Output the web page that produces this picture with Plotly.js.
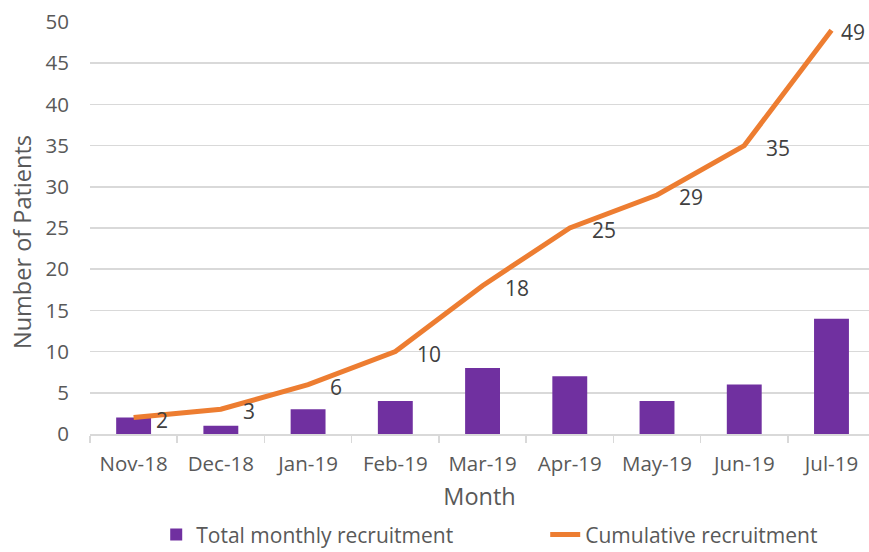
<!DOCTYPE html>
<html><head><meta charset="utf-8">
<script src="https://cdn.plot.ly/plotly-3.0.1.min.js"></script>
<style>html,body{margin:0;padding:0;background:#fff}#chart{width:869px;height:552px}</style>
</head><body><div id="chart"></div>
<script>
const months = ["Nov-18","Dec-18","Jan-19","Feb-19","Mar-19","Apr-19","May-19","Jun-19","Jul-19"];
const monthly = [2,1,3,4,8,7,4,6,14];
const cumulative = [2,3,6,10,18,25,29,35,49];
const yTicks = [0,5,10,15,20,25,30,35,40,45,50];

const FONT = "Open Sans, sans-serif";
const GRAY = "#595959";

const traces = [
  {type:"bar", x:months, y:monthly, name:"Total monthly recruitment",
   marker:{color:"#7030A0"}, hoverinfo:"skip"},
  {type:"scatter", mode:"lines", x:months, y:cumulative, name:"Cumulative recruitment",
   line:{color:"#ED7D31", width:5}, hoverinfo:"skip"}
];

const annotations = months.map((m,i)=>({
  x:m, y:cumulative[i], xref:"x", yref:"y", text:String(cumulative[i]),
  showarrow:false, xanchor:"left", yanchor:"middle",
  xshift:(i === months.length-1 ? 8 : 20), yshift:-2,
  font:{family:FONT, size:21, color:"#404040"}
}));
annotations.push({
  text:"Number of Patients", textangle:-90, showarrow:false,
  xref:"paper", yref:"paper", x:0, xshift:-68, y:0.466, xanchor:"center", yanchor:"middle",
  font:{family:FONT, size:23.5, color:GRAY}
});

const layout = {
  width:869, height:552,
  margin:{l:90, r:0, t:22, b:118, autoexpand:false},
  paper_bgcolor:"#fff", plot_bgcolor:"#fff",
  bargap:0.6,
  showlegend:true,
  legend:{orientation:"h", x:0.085, xanchor:"left", y:-0.245, yanchor:"middle",
    font:{family:FONT, size:21, color:GRAY}, entrywidth:344, entrywidthmode:"pixels"},
  xaxis:{type:"category", range:[-0.5, 8.43], tickson:"boundaries", ticks:"outside", ticklen:7, tickwidth:1.5,
    tickcolor:"#d9d9d9", showline:true, linecolor:"#d9d9d9", linewidth:1.5,
    showgrid:false, ticklabelstandoff:11,
    tickfont:{family:FONT, size:20.5, color:GRAY},
    title:{text:"Month", font:{family:FONT, size:23.5, color:GRAY}, standoff:12}},
  yaxis:{range:[0,50], tickvals:yTicks, showgrid:true, gridcolor:"#d9d9d9", gridwidth:1.5,
    zeroline:false, showline:false, ticks:"", ticklabelstandoff:20,
    tickfont:{family:FONT, size:20.5, color:GRAY}},
  annotations: annotations
};

Plotly.newPlot("chart", traces, layout, {displayModeBar:false, staticPlot:true});
</script></body></html>
